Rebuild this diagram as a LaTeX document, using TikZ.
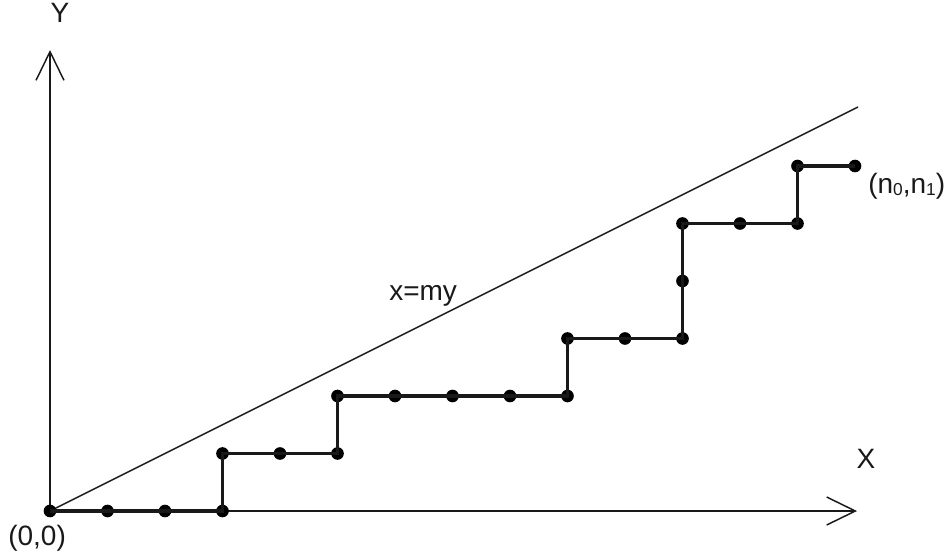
\documentclass[tikz,border=0pt]{standalone}
\usepackage{fontspec}
\setmainfont{Liberation Sans}
\usetikzlibrary{arrows.meta}
\begin{document}
\begin{tikzpicture}[x=0.75pt,y=-0.75pt,
  dot/.style={circle,fill=black,inner sep=0pt,minimum size=9.5pt},
  stair/.style={line width=2.5pt,black!90},
  axis/.style={line width=1.1pt,black!90,-{Straight Barb[length=21.5pt,width=21pt,line width=1.1pt]}},
  diag/.style={line width=1.1pt,black!90},
  lbl/.style={font=\fontsize{21}{25}\selectfont,inner sep=0pt,text=black!90}]
\useasboundingbox (0,0) rectangle (948,554);
% axes
\coordinate (O) at (50,511);
\coordinate (xend) at (857,511);
\coordinate (yend) at (50,50);
\coordinate (dend) at (858,107);
\draw[axis] (O) -- (xend);
\draw[axis] (O) -- (yend);
\draw[diag] (O) -- (dend);
% staircase points
\foreach \n/\i/\j in {0/0/0,1/1/0,2/2/0,3/3/0,4/3/1,5/4/1,6/5/1,7/5/2,8/6/2,9/7/2,10/8/2,11/9/2,12/9/3,13/10/3,14/11/3,15/11/4,16/11/5,17/12/5,18/13/5,19/13/6,20/14/6}
  \node[dot] (p\n) at ({50+57.5*\i},{511-57.5*\j}) {};
\draw[stair] (p0.center) \foreach \n in {1,...,20} { -- (p\n.center) };
% labels
\node[lbl,anchor=base] (ly) at (60,22) {Y};
\node[lbl,anchor=base] (lx) at (866,468) {X};
\node[lbl,anchor=base west] (lo) at (8,545) {(0,0)};
\node[lbl,anchor=base west] (ln) at (868,193) {(n\raisebox{-0.2ex}{\fontsize{13}{13}\selectfont 0},n\raisebox{-0.2ex}{\fontsize{13}{13}\selectfont 1})};
\node[lbl,anchor=base west] (lm) at (389,300) {x=my};
\end{tikzpicture}
\end{document}
